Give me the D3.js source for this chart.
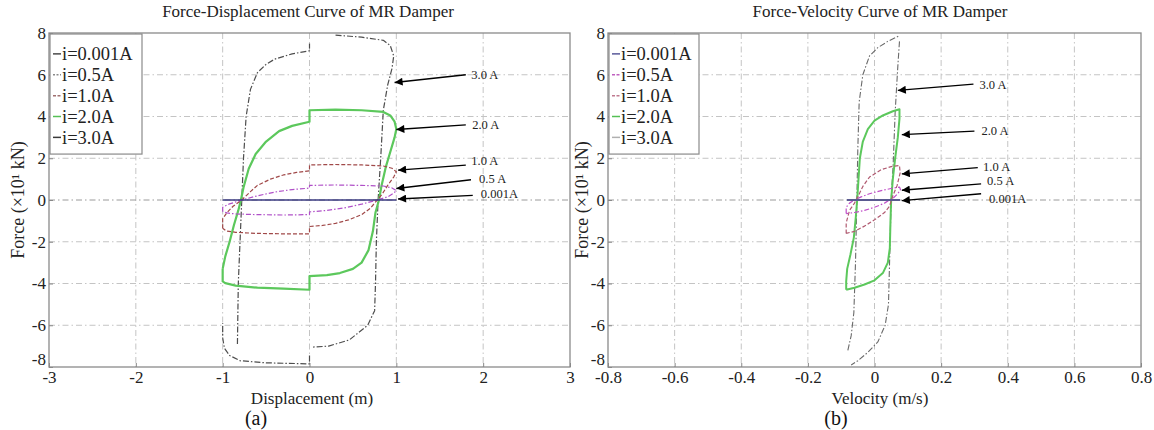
<!DOCTYPE html>
<html><head><meta charset="utf-8">
<script src="https://cdn.jsdelivr.net/npm/d3@7"></script>
<style>
html,body{margin:0;padding:0;background:#fff;}
svg{display:block;font-family:"Liberation Serif","Times New Roman",serif;}
</style></head>
<body><svg id="c" width="1154" height="430"></svg>
<script>
// ---------- data ----------
const forceTicks = [-8,-6,-4,-2,0,2,4,6,8];
const dispTicks = [-3,-2,-1,0,1,2,3];
const velTicks = [-0.8,-0.6,-0.4,-0.2,0,0.2,0.4,0.6,0.8];
const currentLabels = ["i=0.001A","i=0.5A","i=1.0A","i=2.0A","i=3.0A"];
const arrowLabels = ["3.0 A","2.0 A","1.0 A","0.5 A","0.001A"];

// Force-displacement loops (displacement m, force x10 kN)
const fdI001 = [[[-1,0],[1,0]]];
const fdI05 = [[[-1,-0.55],[-1,-0.35],[-0.93,-0.2],[-0.78,0],[-0.6,0.2],[-0.4,0.38],[-0.2,0.5],[0,0.57],[0,0.7],[0.3,0.72],[0.6,0.7],[0.85,0.67],[0.95,0.58],[1.0,0.45],[0.97,0.33],[0.9,0.15],[0.78,0],[0.6,-0.2],[0.4,-0.38],[0.2,-0.5],[0,-0.57],[0,-0.7],[-0.3,-0.72],[-0.6,-0.7],[-0.85,-0.67],[-0.95,-0.62],[-1,-0.55]]];
const fdI10 = [[[-1,-1.35],[-1,-0.9],[-0.95,-0.6],[-0.88,-0.3],[-0.78,0],[-0.68,0.4],[-0.6,0.7],[-0.45,1.0],[-0.3,1.2],[-0.15,1.32],[0,1.4],[0,1.68],[0.3,1.7],[0.6,1.68],[0.85,1.63],[0.95,1.52],[1.0,1.35],[0.97,1.1],[0.9,0.7],[0.84,0.3],[0.78,0],[0.7,-0.4],[0.6,-0.7],[0.45,-0.95],[0.3,-1.12],[0.15,-1.22],[0,-1.27],[0,-1.62],[-0.3,-1.62],[-0.6,-1.6],[-0.85,-1.55],[-0.96,-1.48],[-1,-1.35]]];
const fdI20 = [[[-1,-3.3],[-0.97,-2.7],[-0.92,-2.0],[-0.87,-1.2],[-0.82,-0.5],[-0.79,0],[-0.76,0.6],[-0.7,1.5],[-0.62,2.2],[-0.5,2.8],[-0.35,3.3],[-0.2,3.55],[0,3.75],[0,4.3],[0.3,4.33],[0.6,4.3],[0.85,4.22],[0.93,4.05],[0.98,3.75],[1.0,3.4],[0.98,3.0],[0.93,2.3],[0.88,1.6],[0.83,0.7],[0.8,0],[0.76,-0.6],[0.73,-1.5],[0.68,-2.4],[0.6,-3.0],[0.5,-3.3],[0.35,-3.5],[0.2,-3.6],[0,-3.65],[0,-4.3],[-0.3,-4.25],[-0.6,-4.2],[-0.85,-4.1],[-0.97,-3.98],[-1,-3.9],[-1,-3.3]]];
const fdI30 = [
  [[-0.83,-6.9],[-0.82,-4],[-0.8,-2],[-0.78,0],[-0.76,2],[-0.73,4],[-0.68,5.3],[-0.6,6.1],[-0.5,6.5],[-0.4,6.75],[-0.2,7.0],[0,7.15],[0,7.5]],
  [[0.3,7.9],[0.6,7.8],[0.85,7.65],[0.93,7.4],[0.97,6.9],[0.95,6.3],[0.9,5.5],[0.85,4.3],[0.82,2],[0.79,0],[0.77,-2],[0.76,-4],[0.75,-5.3],[0.67,-6.0],[0.46,-6.7],[0.22,-7.0],[0.02,-7.05]],
  [[0,-7.45],[0,-7.85],[-0.5,-7.8],[-0.8,-7.7],[-0.92,-7.45],[-0.98,-7.1],[-1,-6.6],[-1,-5.9]]
];

// Force-velocity loops (velocity m/s, force x10 kN)
const fvI001 = [[[-0.083,0],[0.077,0]]];
const fvI05 = [[[-0.085,-0.65],[-0.085,-0.35],[-0.075,-0.15],[-0.06,0.0],[-0.04,0.15],[-0.015,0.3],[0.02,0.45],[0.05,0.55],[0.075,0.62],[0.078,0.5],[0.07,0.3],[0.058,0.12],[0.045,0.0],[0.03,-0.15],[0.0,-0.35],[-0.03,-0.5],[-0.06,-0.6],[-0.085,-0.65]]];
const fvI10 = [[[-0.085,-1.6],[-0.085,-1.1],[-0.075,-0.5],[-0.06,-0.15],[-0.05,0.15],[-0.035,0.65],[-0.015,1.1],[0.02,1.45],[0.05,1.6],[0.075,1.65],[0.077,1.3],[0.068,0.7],[0.055,0.2],[0.045,-0.3],[0.03,-0.6],[0.0,-0.95],[-0.03,-1.25],[-0.06,-1.5],[-0.085,-1.6]]];
const fvI20 = [[[-0.085,-4.3],[-0.085,-3.9],[-0.082,-3.3],[-0.072,-2.6],[-0.062,-1.8],[-0.056,-0.8],[-0.052,0],[-0.048,1.0],[-0.044,2.0],[-0.035,2.8],[-0.02,3.4],[0,3.8],[0.025,4.05],[0.055,4.25],[0.075,4.35],[0.075,3.9],[0.07,3.0],[0.062,2.0],[0.055,1.0],[0.05,0],[0.048,-1.0],[0.046,-2.3],[0.04,-3.0],[0.025,-3.5],[0,-3.85],[-0.03,-4.05],[-0.06,-4.2],[-0.085,-4.3]]];
const fvI30 = [
  [[-0.08,-7.2],[-0.07,-6.5],[-0.062,-5.4],[-0.057,-3],[-0.053,0],[-0.05,2.5],[-0.046,4.7],[-0.035,6.0],[-0.015,6.9],[0.01,7.3],[0.04,7.6],[0.072,7.85]],
  [[0.075,7.6],[0.07,6.4],[0.062,4.2],[0.056,1.7],[0.05,0],[0.046,-2.5],[0.042,-5.0],[0.032,-6.0],[0.01,-6.8],[-0.02,-7.3],[-0.05,-7.7],[-0.07,-7.9]]
];

// annotation arrows: [label x, label y, tail x, tail y, head x, head y]
const fdArrows = [[1.84,6.0,1.8,6.0,0.98,5.63],[1.85,3.6,1.8,3.6,1.0,3.38],[1.84,1.88,1.8,1.67,1.02,1.43],[1.93,1.02,1.86,0.97,1.0,0.55],[1.95,0.3,1.88,0.22,1.02,0.05]];
const fvArrows = [[0.309,5.55,0.297,5.55,0.07,5.25],[0.315,3.3,0.3,3.3,0.082,3.13],[0.32,1.6,0.31,1.55,0.082,1.25],[0.332,0.93,0.32,0.77,0.082,0.47],[0.338,0.05,0.32,0.3,0.082,-0.03]];
// legend rows sit at these force levels
const legendRows = [7,6,5,4,3];

// ---------- drawing ----------
const svg = d3.select("#c");
const defs = svg.append("defs");
defs.append("marker").attr("id","ah").attr("viewBox","0 0 10 10").attr("refX",10).attr("refY",5)
  .attr("markerWidth",11).attr("markerHeight",8).attr("markerUnits","userSpaceOnUse").attr("orient","auto")
  .append("path").attr("d","M0,0L10,5L0,10Z").attr("fill","#000");

function panel(o){
  const x = d3.scaleLinear().domain(o.xDomain).range([o.left,o.right]);
  const y = d3.scaleLinear().domain([-8,8]).range([o.bottom,o.top]);
  const g = svg.append("g");
  g.append("rect").attr("x",o.left).attr("y",o.top).attr("width",o.right-o.left).attr("height",o.bottom-o.top).attr("fill","#fff");
  // grid
  const gx = o.xTicks.slice(1,-1), gy = forceTicks.slice(1,-1);
  g.selectAll(".gx").data(gx).join("line").attr("x1",d=>x(d)).attr("x2",d=>x(d)).attr("y1",o.top).attr("y2",o.bottom)
    .attr("stroke","#c4c4c4").attr("stroke-width",1).attr("stroke-dasharray","6,3,1.5,3");
  g.selectAll(".gy").data(gy).join("line").attr("y1",d=>y(d)).attr("y2",d=>y(d)).attr("x1",o.left).attr("x2",o.right)
    .attr("stroke",d=>d===0?"#9a9a9a":"#c4c4c4").attr("stroke-width",1).attr("stroke-dasharray","6,3,1.5,3");
  // axes via d3
  const fmt = v => (Math.abs(v)<1e-9) ? "0" : String(+v.toFixed(1));
  const ax = g.append("g").attr("transform",`translate(0,${o.bottom})`)
    .call(d3.axisBottom(x).tickValues(o.xTicks).tickFormat(fmt).tickSize(-4).tickPadding(3));
  const ay = g.append("g").attr("transform",`translate(${o.left},0)`)
    .call(d3.axisLeft(y).tickValues(forceTicks).tickFormat(fmt).tickSize(-4).tickPadding(3));
  [ax,ay].forEach(a=>{
    a.select(".domain").remove();
    a.selectAll(".tick line").attr("stroke","#888");
    a.selectAll("text").attr("font-family","Liberation Serif").attr("font-size",17).attr("fill","#222");
  });
  ay.selectAll("text").attr("dy","0.32em");
  ay.selectAll(".tick").filter(d=>d===-8).select("text").attr("dy","-0.12em");
  ax.selectAll("text").attr("dy","0.76em");
  // box
  g.append("rect").attr("x",o.left).attr("y",o.top).attr("width",o.right-o.left).attr("height",o.bottom-o.top)
    .attr("fill","none").attr("stroke","#8a8a8a").attr("stroke-width",1.3);
  // curves
  const line = d3.line().x(d=>x(d[0])).y(d=>y(d[1]));
  o.series.forEach(s=>{
    s.pieces.forEach(p=>{
      g.append("path").attr("d",line(p)).attr("fill","none").attr("stroke",s.color)
        .attr("stroke-width",s.width).attr("stroke-dasharray",s.dash||null).attr("stroke-linejoin","round");
    });
  });
  // arrows
  o.arrows.forEach((a,i)=>{
    g.append("line").attr("x1",x(a[2])).attr("y1",y(a[3])).attr("x2",x(a[4])).attr("y2",y(a[5]))
      .attr("stroke","#000").attr("stroke-width",1.4).attr("marker-end","url(#ah)");
    g.append("text").attr("x",x(a[0])+2).attr("y",y(a[1])).attr("dy","0.35em").attr("font-size",12.5)
      .attr("font-family","Liberation Serif").attr("fill","#222").text(arrowLabels[i]);
  });
  // legend
  const lg = g.append("g");
  lg.append("rect").attr("x",o.left+1).attr("y",o.top+1).attr("width",o.legendW).attr("height",y(2.2)-o.top-1)
    .attr("fill","#fff").attr("stroke","#8a8a8a").attr("stroke-width",1.2);
  currentLabels.forEach((t,i)=>{
    const yy = y(legendRows[i]);
    lg.append("line").attr("x1",o.left+4).attr("x2",o.left+12).attr("y1",yy).attr("y2",yy)
      .attr("stroke",o.legendColors[i]).attr("stroke-width",1.5).attr("stroke-dasharray",o.legendDash[i]||null);
    lg.append("text").attr("x",o.left+13).attr("y",yy).attr("dy","0.35em").attr("font-size",18.5)
      .attr("font-family","Liberation Serif").attr("fill","#222").text(t);
  });
  // titles
  g.append("text").attr("x",o.titleX).attr("y",17).attr("text-anchor","middle").attr("font-size",17)
    .attr("font-family","Liberation Serif").attr("fill","#222").text(o.title);
  g.append("text").attr("x",o.xlabelX).attr("y",404).attr("text-anchor","middle").attr("font-size",17)
    .attr("font-family","Liberation Serif").attr("fill","#222").text(o.xlabel);
  g.append("text").attr("transform",`translate(${o.ylabelX},${y(0)}) rotate(-90)`).attr("text-anchor","middle")
    .attr("font-size",18).attr("font-family","Liberation Serif").attr("fill","#222").text("Force (×10¹ kN)");
  g.append("text").attr("x",o.capX).attr("y",425).attr("text-anchor","middle").attr("font-size",20)
    .attr("font-family","Liberation Serif").attr("fill","#111").text(o.cap);
}

panel({
  left:49,right:570,top:33,bottom:367,xDomain:[-3,3],xTicks:dispTicks,
  title:"Force-Displacement Curve of MR Damper",titleX:308,
  xlabel:"Displacement (m)",xlabelX:312,ylabelX:24,cap:"(a)",capX:256,legendW:92,
  legendColors:["#4a4a4a","#8a8a8a","#a07070","#55c055","#3a3a3a"],
  legendDash:[null,"2,1.5","3,1.5",null,null],
  series:[
    {pieces:fdI30,color:"#4d4d4d",width:1.2,dash:"6,2,1.5,2"},
    {pieces:fdI20,color:"#5cc85c",width:2.2},
    {pieces:fdI10,color:"#a04848",width:1.2,dash:"4,2"},
    {pieces:fdI05,color:"#b050c8",width:1.2,dash:"5,2,1.5,2"},
    {pieces:fdI001,color:"#3a3a80",width:1.6}
  ],
  arrows:fdArrows
});
panel({
  left:608,right:1141,top:33,bottom:367,xDomain:[-0.8,0.8],xTicks:velTicks,
  title:"Force-Velocity Curve of MR Damper",titleX:880,
  xlabel:"Velocity (m/s)",xlabelX:880,ylabelX:588,cap:"(b)",capX:836,legendW:90,
  legendColors:["#5a5a9a","#c060c0","#c07a90","#55c055","#b0b0b0"],
  legendDash:[null,"3,1.5","3,1.5",null,null],
  series:[
    {pieces:fvI30,color:"#6a6a6a",width:1.1,dash:"6,2,1.5,2"},
    {pieces:fvI20,color:"#5cc85c",width:2.0},
    {pieces:fvI10,color:"#b05a70",width:1.2,dash:"4,2"},
    {pieces:fvI05,color:"#c050c8",width:1.2,dash:"5,2,1.5,2"},
    {pieces:fvI001,color:"#5a5a90",width:1.8}
  ],
  arrows:fvArrows
});
</script></body></html>
